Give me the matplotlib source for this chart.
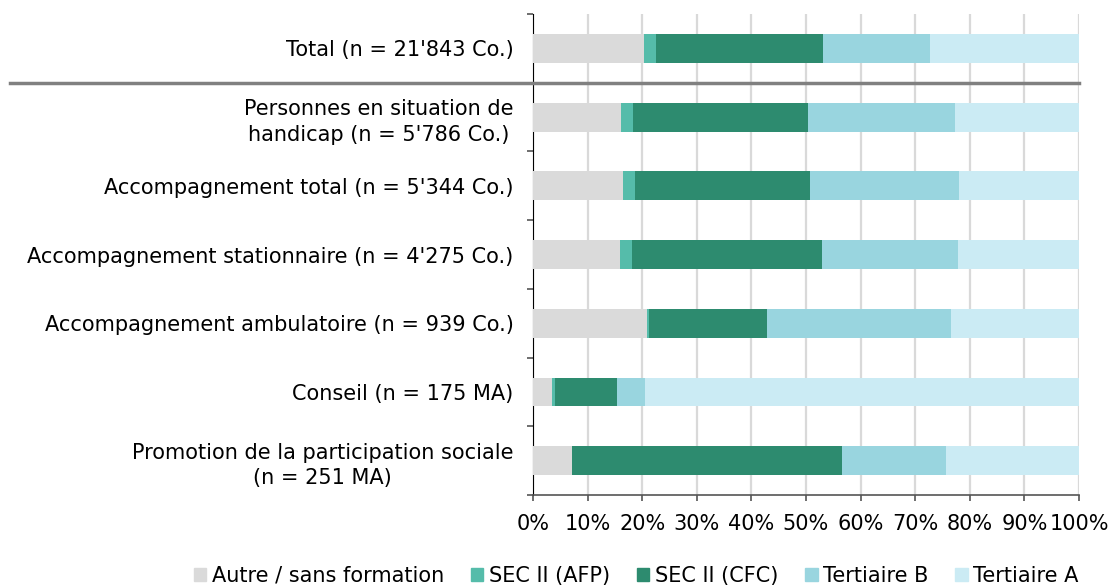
import numpy as np
import matplotlib.pyplot as plt
from matplotlib.patches import Patch

plt.rcParams['font.family'] = ['DejaVu Sans']

categories = [
    "Total (n = 21'843 Co.)",
    "Personnes en situation de\nhandicap (n = 5'786 Co.)",
    "Accompagnement total (n = 5'344 Co.)",
    "Accompagnement stationnaire (n = 4'275 Co.)",
    "Accompagnement ambulatoire (n = 939 Co.)",
    "Conseil (n = 175 MA)",
    "Promotion de la participation sociale\n(n = 251 MA)",
]
series = ["Autre / sans formation", "SEC II (AFP)", "SEC II (CFC)", "Tertiaire B", "Tertiaire A"]
colors = ["#dadada", "#55bcaa", "#2d8b6f", "#99d5df", "#cbebf4"]

# shares in percent, one list per series (same order as categories)
autre = [20.4, 16.2, 16.4, 16.0, 20.8, 3.5, 7.2]
afp = [2.1, 2.1, 2.2, 2.1, 0.4, 0.6, 0.0]
cfc = [30.7, 32.1, 32.1, 34.8, 21.6, 11.2, 49.4]
tert_b = [19.5, 26.9, 27.3, 25.0, 33.8, 5.2, 19.1]
tert_a = [27.3, 22.7, 22.0, 22.1, 23.4, 79.5, 24.3]
values = [autre, afp, cfc, tert_b, tert_a]

fs = 15

fig = plt.figure(figsize=(11.12, 5.87), dpi=100)
ax = fig.add_axes([0.4793, 0.1567, 0.4910, 0.8194])

y = np.arange(len(categories))
left = np.zeros(len(categories))
for name, vals, c in zip(series, values, colors):
    vals = np.array(vals)
    ax.barh(y, vals, left=left, height=0.42, color=c, label=name, zorder=3)
    left += vals

ax.set_ylim(len(categories) - 0.5, -0.5)
ax.set_xlim(0, 100)

# y labels without tick marks, ticks at category boundaries instead
ax.set_yticks(y)
ax.set_yticklabels(categories, fontsize=fs, multialignment='center', linespacing=1.35)
ax.tick_params(axis='y', length=0, pad=14)
ax.set_yticks(np.arange(-0.5, len(categories) + 0.5, 1), minor=True)
ax.tick_params(axis='y', which='minor', length=4.5, width=1.2, color='#555555')

ax.set_xticks(np.arange(0, 101, 10))
ax.set_xticklabels([f"{v}%" for v in range(0, 101, 10)], fontsize=fs)
ax.tick_params(axis='x', length=4, width=1.2, color='#555555', pad=10)
ax.grid(axis='x', color='#d9d9d9', lw=1.6, zorder=0)

for s in ['top', 'right']:
    ax.spines[s].set_visible(False)
ax.spines['left'].set_color('black')
ax.spines['bottom'].set_color('#555555')
ax.spines['bottom'].set_linewidth(1.2)

# separator between total and the subgroups
ax.plot([-0.958, 1.0], [0.5, 0.5], transform=ax.get_yaxis_transform(),
        color='#808080', lw=2.5, clip_on=False, zorder=5)

handles = [Patch(color=c, label=n) for n, c in zip(series, colors)]
fig.legend(handles=handles, loc='lower center', bbox_to_anchor=(0.572, -0.03),
           ncol=5, frameon=False, fontsize=fs, handlelength=0.6, handleheight=0.6,
           handletextpad=0.25, columnspacing=1.3)

fig.savefig('out.png', dpi=100)
